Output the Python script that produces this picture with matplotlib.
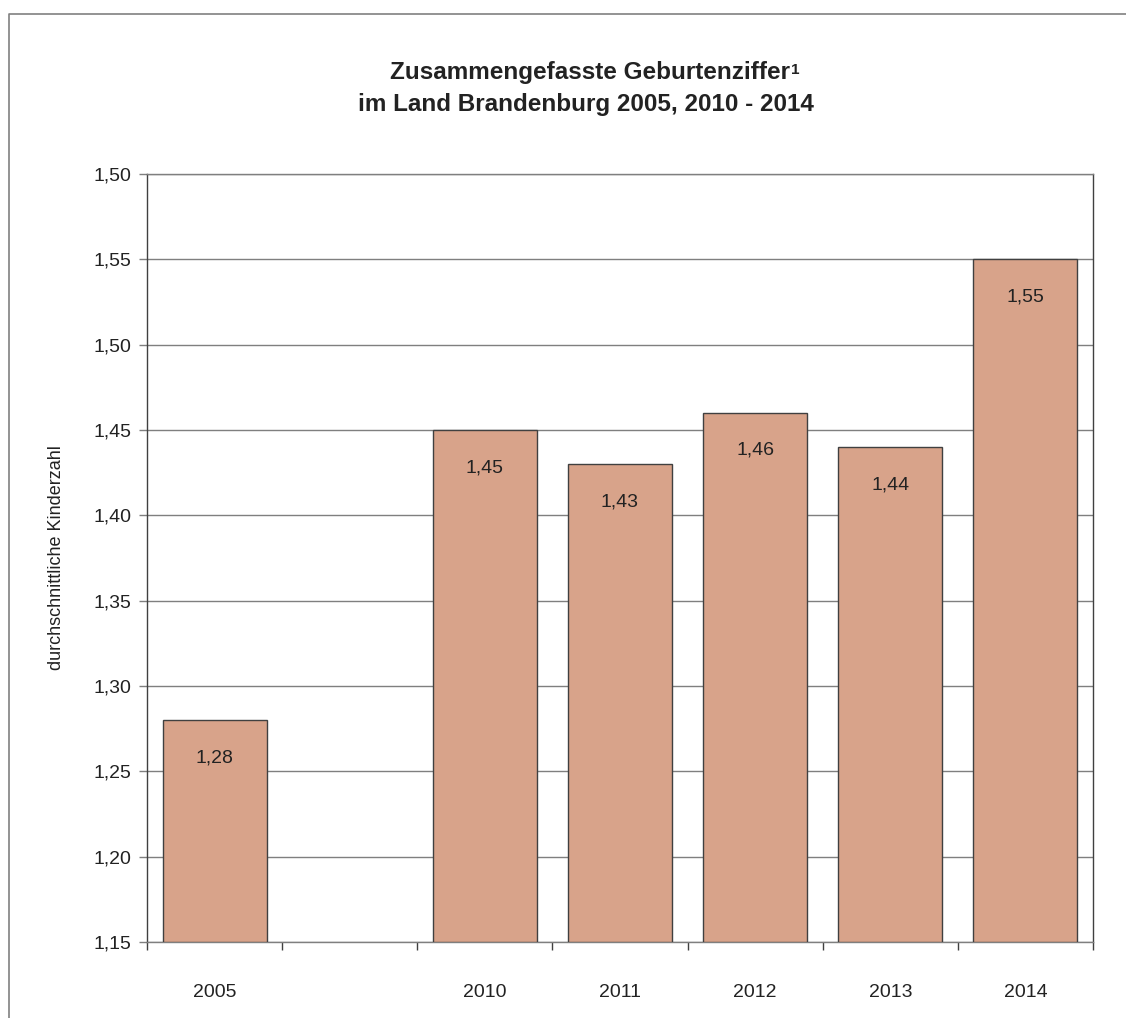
import matplotlib
matplotlib.use("Agg")
import matplotlib.pyplot as plt
import numpy as np
from matplotlib.lines import Line2D

plt.rcParams['font.family'] = ['Liberation Sans', 'DejaVu Sans']

categories = ["2005", "", "2010", "2011", "2012", "2013", "2014"]
values = [1.28, None, 1.45, 1.43, 1.46, 1.44, 1.55]
value_labels = ["1,28", "", "1,45", "1,43", "1,46", "1,44", "1,55"]
ytick_values = [1.15, 1.20, 1.25, 1.30, 1.35, 1.40, 1.45, 1.50, 1.55, 1.60]
ytick_labels = ["1,15", "1,20", "1,25", "1,30", "1,35", "1,40", "1,45", "1,50", "1,55", "1,50"]
title_line1 = "Zusammengefasste Geburtenziffer"
title_sup = "1"
title_line2 = "im Land Brandenburg 2005, 2010 - 2014"
ylabel = "durchschnittliche Kinderzahl"

W, H = 1126, 1018
fig = plt.figure(figsize=(W / 100, H / 100), dpi=100)
ax = fig.add_axes([147 / W, 1 - 942 / H, (1093 - 147) / W, (942 - 174) / H])

bar_color = "#d8a38a"
edge_color = "#404040"
grid_color = "#7f7f7f"
text_color = "#222222"

ymin = ytick_values[0]
ymax = ytick_values[-1]
ax.set_ylim(ymin, ymax)
ax.set_xlim(-0.5, len(categories) - 0.5)

ax.set_axisbelow(True)
ax.yaxis.grid(True, color=grid_color, linewidth=1.0)

for i, (v, lab) in enumerate(zip(values, value_labels)):
    if v is None:
        continue
    ax.bar(i, v - ymin, bottom=ymin, width=0.77, color=bar_color,
           edgecolor=edge_color, linewidth=1.0, zorder=3)
    ax.annotate(lab, xy=(i, v), xytext=(0, -27), textcoords="offset points",
                ha="center", va="center", fontsize=14, color=text_color, zorder=4)

ax.set_yticks(ytick_values)
ax.set_yticklabels(ytick_labels, fontsize=14, color=text_color)
ax.tick_params(axis="y", direction="out", length=6, width=1, color=grid_color, pad=5)

ax.set_xticks(np.arange(len(categories) + 1) - 0.5)
ax.set_xticklabels([])
ax.tick_params(axis="x", which="major", direction="out", length=6, width=1, color=edge_color)
ax.set_xticks(np.arange(len(categories)), minor=True)
ax.set_xticklabels(categories, minor=True, fontsize=14, color=text_color)
ax.tick_params(axis="x", which="minor", length=0, pad=30)

for s in ["left", "right"]:
    ax.spines[s].set_color(edge_color)
    ax.spines[s].set_linewidth(1.0)
for s in ["top", "bottom"]:
    ax.spines[s].set_color(grid_color)
    ax.spines[s].set_linewidth(1.0)

fig.text(57 / W, 1 - 558 / H, ylabel, rotation=90, ha="center", va="center",
         fontsize=13, color=text_color)

t1 = fig.text(590 / W, 1 - 73 / H, title_line1, ha="center", va="center", fontsize=17.5,
              fontweight="bold", color=text_color)
fig.text(586 / W, 1 - 104 / H, title_line2, ha="center", va="center", fontsize=17.5,
         fontweight="bold", color=text_color)
fig.canvas.draw()
bb = t1.get_window_extent(renderer=fig.canvas.get_renderer())
fig.text((bb.x1 + 1) / W, (bb.y1 - 2) / H, title_sup, ha="left", va="top", fontsize=11,
         fontweight="bold", color=text_color)

fig.add_artist(Line2D([9 / W, 9 / W, 1.0], [0.0, 1 - 14 / H, 1 - 14 / H],
                      transform=fig.transFigure, color="#808080", linewidth=1.2))

fig.savefig("out.png", dpi=100, facecolor="white")
